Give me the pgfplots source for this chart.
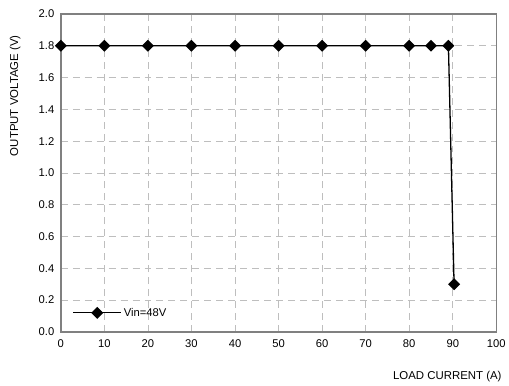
\documentclass[border=0pt]{standalone}
\usepackage{pgfplots}
\pgfplotsset{compat=1.18}
\usepackage{fontspec}
\setmainfont{Liberation Sans}
\definecolor{gridgray}{RGB}{190,190,190}
\definecolor{axisgray}{RGB}{128,128,128}
\begin{document}
\begin{tikzpicture}
\begin{axis}[
  scale only axis,
  width=437bp, height=319bp,
  xmin=0, xmax=100, ymin=0, ymax=2.0,
  xtick={0,10,...,100},
  ytick={0,0.2,...,2.0},
  yticklabel style={/pgf/number format/fixed,/pgf/number format/fixed zerofill,/pgf/number format/precision=1},
  /pgf/number format/assume math mode=true,
  tick label style={font=\fontsize{11.3}{13}\selectfont, text=black},
  xticklabel style={yshift=-4bp},
  yticklabel style={xshift=-3bp},
  major tick length=0pt,
  grid=major,
  major grid style={gridgray, dash pattern=on 7bp off 5bp, line width=0.8bp},
  axis line style={axisgray, line width=1.6bp},
  xlabel={LOAD CURRENT (A)},
  ylabel={OUTPUT VOLTAGE (V)},
  label style={font=\fontsize{11.5}{13}\selectfont},
  xlabel style={at={(rel axis cs:1.02,-0.14)}, anchor=east},
  ylabel style={at={(rel axis cs:-0.105,0.743)}, anchor=center},
  legend style={at={(rel axis cs:0.02,0.06)}, anchor=west, draw=none, fill=none, font=\fontsize{11.3}{13}\selectfont},
  legend cell align=left,
  legend image code/.code={\draw[mark repeat=2,mark phase=2] plot coordinates {(0bp,0bp) (24bp,0bp) (48bp,0bp)};},
]
\addplot[black, line width=1.3bp, mark=square*, mark size=3.6bp, mark options={solid, fill=black, rotate=45}]
coordinates {
(0,1.8) (10,1.8) (20,1.8) (30,1.8) (40,1.8) (50,1.8) (60,1.8) (70,1.8) (80,1.8) (85,1.8) (89,1.8) (90.3,0.3)
};
\addlegendentry{Vin=48V}
\end{axis}
\path[use as bounding box] ([xshift=-61bp,yshift=-52bp]current axis.south west) rectangle ([xshift=448bp,yshift=333bp]current axis.south west);
\end{tikzpicture}
\end{document}
